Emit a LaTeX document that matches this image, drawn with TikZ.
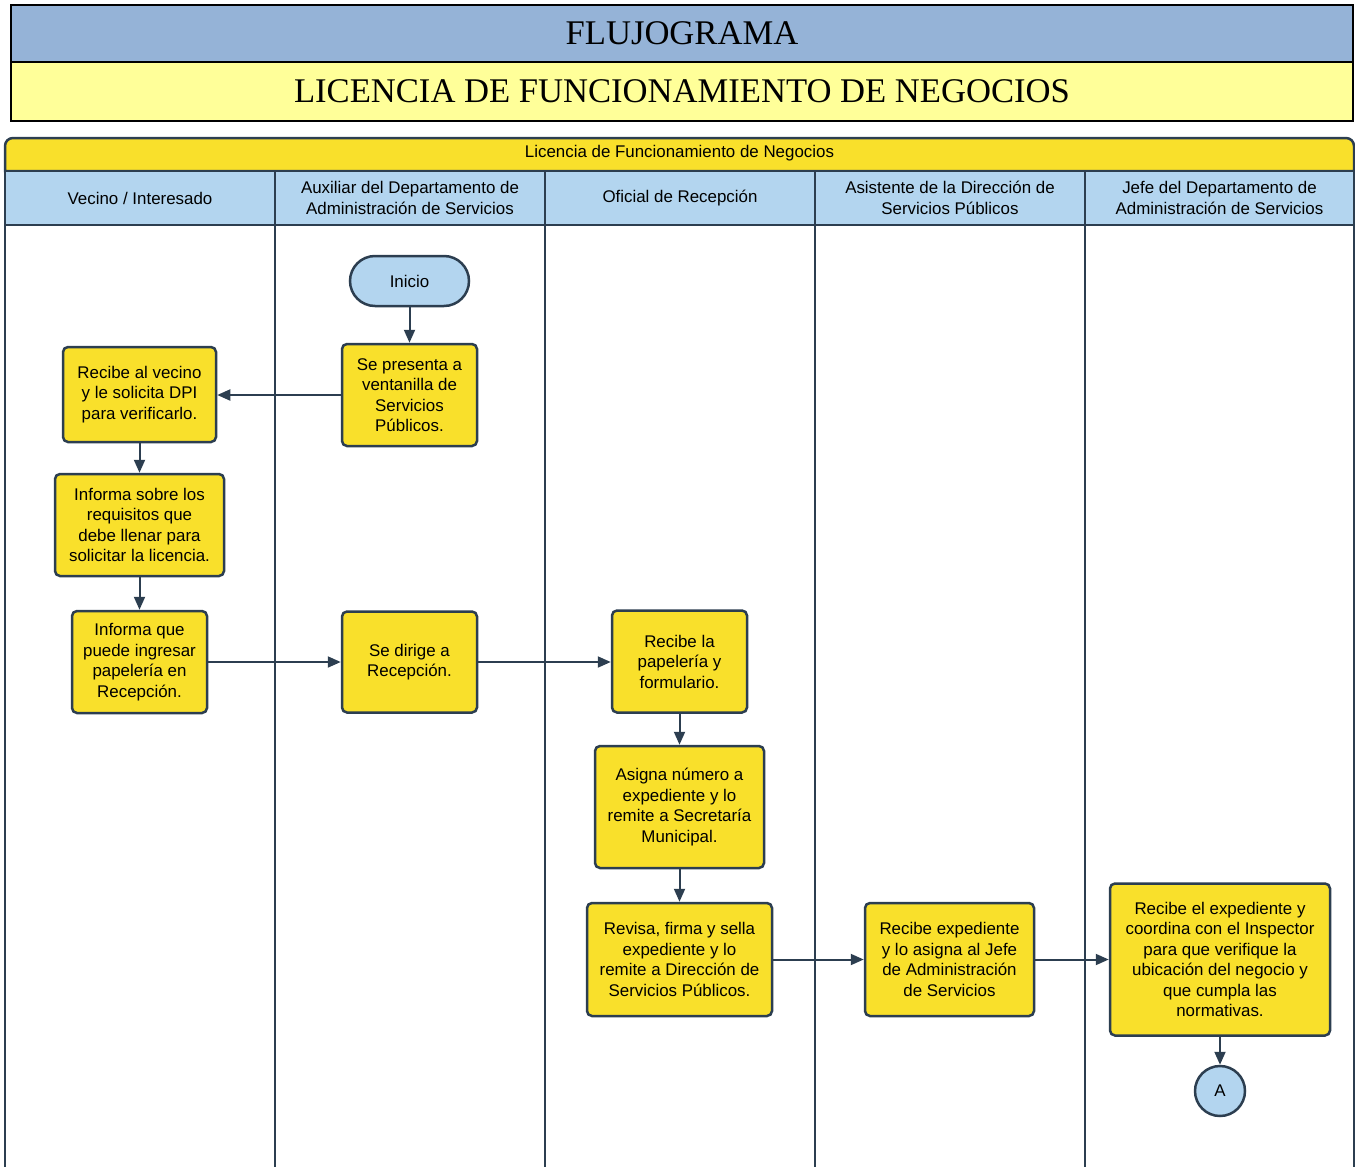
\documentclass[tikz,border=0pt]{standalone}
\usepackage{fontspec}
\setmainfont{Liberation Sans}
\newfontfamily\titlefont{Liberation Serif}
\usetikzlibrary{arrows.meta}
\definecolor{navy}{HTML}{2C3E50}
\definecolor{titleblue}{HTML}{95B3D7}
\definecolor{paleyellow}{HTML}{FFFF99}
\definecolor{boxyellow}{HTML}{F9E02B}
\definecolor{laneblue}{HTML}{B3D5EF}
\tikzset{
  proc/.style={draw=navy, fill=boxyellow, line width=2.5pt, rounded corners=5pt,
    align=center, inner sep=0pt, font=\fontsize{16.9}{20.5}\selectfont,
    execute at end node={\vspace*{3.5pt}}},
  flow/.style={draw=navy, line width=2pt, -{Triangle[length=13pt,width=11pt]}},
  lanehead/.style={draw=navy, fill=laneblue, line width=2.5pt, minimum width=270pt,
    minimum height=54pt, inner sep=0pt, align=center, font=\fontsize{16.9}{20.5}\selectfont,
    execute at end node={\vspace*{3.5pt}}},
  titlebox/.style={draw=black, line width=1.5pt, minimum width=1342pt, inner sep=0pt,
    font=\titlefont\fontsize{34.6}{36}\selectfont},
  laneline/.style={draw=navy, line width=2.5pt}
}
\begin{document}
\begin{tikzpicture}[x=1pt,y=-1pt]
\useasboundingbox (0,0) rectangle (1355,1167);
% titles
\node[titlebox, fill=titleblue, minimum height=57pt] (t1) at (682,33.5) {FLUJOGRAMA};
\node[titlebox, fill=paleyellow, minimum height=59pt] (t2) at (682,91.5) {LICENCIA DE FUNCIONAMIENTO DE NEGOCIOS};
% pool header
\filldraw[fill=boxyellow, draw=navy, line width=2.5pt] (5,171) [rounded corners=8pt] -- (5,138) -- (1354,138) [sharp corners] -- (1354,171) -- cycle;
\node[font=\fontsize{16.9}{20.5}\selectfont] (pooltitle) at (679.5,153.5) {Licencia de Funcionamiento de Negocios};
% lane headers
\node[lanehead] (h1) at (140,198) {Vecino / Interesado};
\node[lanehead] (h2) at (410,198) {Auxiliar del Departamento de\\Administración de Servicios};
\node[lanehead] (h3) at (680,198) {Oficial de Recepción};
\node[lanehead] (h4) at (950,198) {Asistente de la Dirección de\\Servicios Públicos};
\node[lanehead, minimum width=269pt] (h5) at (1219.5,198) {Jefe del Departamento de\\Administración de Servicios};
% lane lines
\foreach \xx in {5,275,545,815,1085,1354} {
  \draw[laneline] (\xx,171) -- (\xx,1170);
}
% nodes
\node[proc, fill=laneblue, rounded corners=25pt, minimum width=119pt, minimum height=50pt] (inicio) at (409.5,281) {Inicio};
\node[proc, minimum width=135pt, minimum height=102pt] (presenta) at (409.5,395) {Se presenta a\\ventanilla de\\Servicios\\Públicos.};
\node[proc, minimum width=153pt, minimum height=95pt] (recibe) at (139.5,394.5) {Recibe al vecino\\y le solicita DPI\\para verificarlo.};
\node[proc, minimum width=169pt, minimum height=102pt] (informa) at (139.5,525) {Informa sobre los\\requisitos que\\debe llenar para\\solicitar la licencia.};
\node[proc, minimum width=135pt, minimum height=102pt] (ingresar) at (139.5,662) {Informa que\\puede ingresar\\papelería en\\Recepción.};
\node[proc, minimum width=135pt, minimum height=101pt] (dirige) at (409.5,662) {Se dirige a\\Recepción.};
\node[proc, minimum width=135pt, minimum height=102pt] (papel) at (679.5,661.5) {Recibe la\\papelería y\\formulario.};
\node[proc, minimum width=169pt, minimum height=122pt] (asigna) at (679.5,807) {Asigna número a\\expediente y lo\\remite a Secretaría\\Municipal.};
\node[proc, minimum width=185pt, minimum height=113pt] (revisa) at (679.5,959.5) {Revisa, firma y sella\\expediente y lo\\remite a Dirección de\\Servicios Públicos.};
\node[proc, minimum width=169pt, minimum height=113pt] (expediente) at (949.5,959.5) {Recibe expediente\\y lo asigna al Jefe\\de Administración\\de Servicios};
\node[proc, minimum width=220pt, minimum height=152pt] (jefe) at (1220,959.5) {Recibe el expediente y\\coordina con el Inspector\\para que verifique la\\ubicación del negocio y\\que cumpla las\\normativas.};
\node[proc, fill=laneblue, circle, minimum size=50pt] (A) at (1220,1091) {A};
% connectors
\draw[flow] (inicio) -- (presenta);
\draw[flow] (presenta.west) -- (recibe.east |- presenta.west);
\draw[flow] (recibe) -- (informa);
\draw[flow] (informa) -- (ingresar);
\draw[flow] (ingresar.east) -- (dirige.west);
\draw[flow] (dirige.east) -- (papel.west |- dirige.east);
\draw[flow] (papel) -- (asigna);
\draw[flow] (asigna) -- (revisa);
\draw[flow] (revisa.east) -- (expediente.west);
\draw[flow] (expediente.east) -- (jefe.west);
\draw[flow] (jefe) -- (A);
\end{tikzpicture}
\end{document}
